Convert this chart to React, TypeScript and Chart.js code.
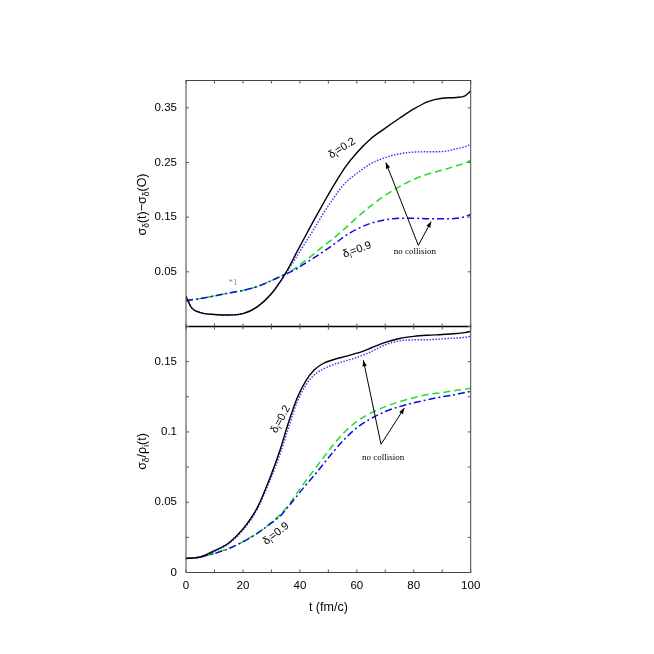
import { useEffect, useRef } from 'react';
import { Chart, registerables } from 'chart.js';

Chart.register(...registerables);

// time axis (fm/c)
const times = [0, 2, 5, 10, 15, 20, 25, 30, 33, 36, 39, 42, 45, 48, 52, 56, 60, 65, 70, 75, 80, 85, 90, 95, 98, 100];

// top panel: sigma_delta(t) - sigma_delta(0)
const topColl02 = [0.005, -0.016, -0.0245, -0.028, -0.029, -0.0265, -0.014, 0.010, 0.031, 0.057, 0.087, 0.116, 0.145, 0.173, 0.209, 0.242, 0.268, 0.294, 0.313, 0.331, 0.348, 0.3615, 0.3675, 0.369, 0.372, 0.381];
const topNoColl02 = [0.005, -0.016, -0.0245, -0.028, -0.029, -0.0265, -0.014, 0.010, 0.031, 0.054, 0.079, 0.104, 0.129, 0.155, 0.186, 0.213, 0.230, 0.248, 0.259, 0.266, 0.269, 0.2696, 0.270, 0.275, 0.279, 0.283];
const topColl09 = [-0.003, -0.001, 0.001, 0.006, 0.011, 0.016, 0.023, 0.034, 0.041, 0.049, 0.059, 0.071, 0.083, 0.096, 0.112, 0.130, 0.149, 0.171, 0.190, 0.206, 0.219, 0.229, 0.236, 0.244, 0.249, 0.254];
const topNoColl09 = [-0.003, -0.001, 0.001, 0.006, 0.011, 0.016, 0.023, 0.034, 0.041, 0.048, 0.056, 0.066, 0.076, 0.086, 0.1005, 0.116, 0.128, 0.139, 0.145, 0.148, 0.148, 0.147, 0.147, 0.148, 0.151, 0.155];

// bottom panel: sigma_delta / rho_i(t)
const botColl02 = [0.010, 0.0102, 0.011, 0.0155, 0.021, 0.031, 0.046, 0.070, 0.087, 0.1067, 0.124, 0.136, 0.144, 0.1485, 0.1515, 0.1537, 0.156, 0.1597, 0.1637, 0.1665, 0.168, 0.1688, 0.1693, 0.170, 0.1706, 0.1716];
const botNoColl02 = [0.010, 0.0102, 0.011, 0.015, 0.0205, 0.030, 0.045, 0.068, 0.084, 0.103, 0.121, 0.133, 0.1405, 0.1445, 0.148, 0.1505, 0.153, 0.157, 0.162, 0.1648, 0.1655, 0.1656, 0.1662, 0.1668, 0.1673, 0.168];
const botColl09 = [0.010, 0.0102, 0.011, 0.0137, 0.0172, 0.022, 0.028, 0.0357, 0.041, 0.048, 0.0565, 0.065, 0.073, 0.081, 0.0915, 0.1005, 0.1075, 0.1135, 0.118, 0.1215, 0.1243, 0.1266, 0.128, 0.1296, 0.1305, 0.1312];
const botNoColl09 = [0.010, 0.0102, 0.011, 0.0135, 0.017, 0.0218, 0.0278, 0.0352, 0.040, 0.047, 0.0545, 0.062, 0.069, 0.0765, 0.0865, 0.0955, 0.103, 0.1095, 0.1145, 0.118, 0.1207, 0.123, 0.125, 0.1267, 0.128, 0.1289];

// tick labels
const xTickLabels = [0, 20, 40, 60, 80, 100];
const xTickMarks = [0, 10, 20, 30, 40, 50, 60, 70, 80, 90, 100];
const topYTicks = [0.05, 0.15, 0.25, 0.35];
const botYTicks = [0, 0.05, 0.1, 0.15];
const botYTickMarks = [0, 0.025, 0.05, 0.075, 0.1, 0.125, 0.15, 0.175];

const SANS = "'Liberation Sans', Arial, sans-serif";
const SERIF = "'Liberation Serif', 'Times New Roman', serif";

type Part = { t: string; sub?: boolean };

const pts = (vals: number[]) => times.map((t, i) => ({ x: t, y: vals[i] }));

function drawParts(ctx: CanvasRenderingContext2D, parts: Part[], cx: number, cy: number, angleDeg: number, size: number, family: string, color: string) {
  ctx.save();
  ctx.translate(cx, cy);
  ctx.rotate((angleDeg * Math.PI) / 180);
  const subSize = size * 0.68;
  let total = 0;
  const widths = parts.map((p) => {
    ctx.font = `${p.sub ? subSize : size}px ${family}`;
    const w = ctx.measureText(p.t).width;
    total += w;
    return w;
  });
  let x = -total / 2;
  ctx.textBaseline = 'middle';
  ctx.textAlign = 'left';
  ctx.fillStyle = color;
  parts.forEach((p, i) => {
    ctx.font = `${p.sub ? subSize : size}px ${family}`;
    ctx.fillText(p.t, x, p.sub ? size * 0.32 : 0);
    x += widths[i];
  });
  ctx.restore();
}

function arrow(ctx: CanvasRenderingContext2D, x0: number, y0: number, x1: number, y1: number) {
  ctx.save();
  ctx.strokeStyle = '#000';
  ctx.fillStyle = '#000';
  ctx.lineWidth = 1;
  ctx.beginPath();
  ctx.moveTo(x0, y0);
  ctx.lineTo(x1, y1);
  ctx.stroke();
  const a = Math.atan2(y1 - y0, x1 - x0);
  const L = 6, W = 2.2;
  ctx.beginPath();
  ctx.moveTo(x1, y1);
  ctx.lineTo(x1 - L * Math.cos(a) + W * Math.sin(a), y1 - L * Math.sin(a) - W * Math.cos(a));
  ctx.lineTo(x1 - L * Math.cos(a) - W * Math.sin(a), y1 - L * Math.sin(a) + W * Math.cos(a));
  ctx.closePath();
  ctx.fill();
  ctx.restore();
}

const decorPlugin = {
  id: 'decor',
  afterDatasetsDraw(chart: any) {
    const ctx: CanvasRenderingContext2D = chart.ctx;
    const { left, right } = chart.chartArea;
    const x = chart.scales.x;
    const yt = chart.scales.yt;
    const yb = chart.scales.yb;
    ctx.save();
    // frames
    ctx.strokeStyle = '#444';
    ctx.lineWidth = 1;
    [yt, yb].forEach((s: any) => {
      ctx.strokeRect(left, s.top, right - left, s.bottom - s.top);
    });
    ctx.strokeStyle = '#000';
    ctx.lineWidth = 1.6;
    ctx.beginPath();
    ctx.moveTo(left, yb.top);
    ctx.lineTo(right, yb.top);
    ctx.stroke();
    // tick marks
    ctx.strokeStyle = '#555';
    ctx.lineWidth = 1;
    const TL = 3;
    ctx.beginPath();
    [yt, yb].forEach((s: any) => {
      xTickMarks.forEach((t) => {
        const px = x.getPixelForValue(t);
        ctx.moveTo(px, s.top);
        ctx.lineTo(px, s.top + TL);
        ctx.moveTo(px, s.bottom);
        ctx.lineTo(px, s.bottom - TL);
      });
    });
    topYTicks.forEach((v) => {
      const py = yt.getPixelForValue(v);
      ctx.moveTo(left, py);
      ctx.lineTo(left + TL, py);
      ctx.moveTo(right, py);
      ctx.lineTo(right - TL, py);
    });
    botYTickMarks.forEach((v) => {
      const py = yb.getPixelForValue(v);
      ctx.moveTo(left, py);
      ctx.lineTo(left + TL, py);
      ctx.moveTo(right, py);
      ctx.lineTo(right - TL, py);
    });
    ctx.stroke();
    ctx.restore();

    // y axis titles
    const tMid = (yt.top + yt.bottom) / 2;
    const bMid = (yb.top + yb.bottom) / 2;
    drawParts(ctx, [{ t: 'σ' }, { t: 'δ', sub: true }, { t: '(t)−σ' }, { t: 'δ', sub: true }, { t: '(O)' }], 143, tMid + 1, -90, 12.5, SANS, '#000');
    drawParts(ctx, [{ t: 'σ' }, { t: 'δ', sub: true }, { t: '/ρ' }, { t: 'i', sub: true }, { t: '(t)' }], 143, bMid + 2, -90, 12.5, SANS, '#000');

    // top panel annotations
    const P = (s: any, t: number, v: number) => [x.getPixelForValue(t), s.getPixelForValue(v)];
    let p = P(yt, 54.8, 0.276);
    drawParts(ctx, [{ t: 'δ' }, { t: 'i', sub: true }, { t: '=0.2' }], p[0], p[1], -33, 11, SANS, '#000');
    p = P(yt, 60.1, 0.09);
    drawParts(ctx, [{ t: 'δ' }, { t: 'i', sub: true }, { t: '=0.9' }], p[0], p[1], -20, 11, SANS, '#000');
    p = P(yt, 80.4, 0.087);
    drawParts(ctx, [{ t: 'no collision' }], p[0], p[1], 0, 9, SERIF, '#000');
    p = P(yt, 16.5, 0.031);
    drawParts(ctx, [{ t: '*1' }], p[0], p[1], 0, 9, SERIF, '#888');
    let a0 = P(yt, 81.6, 0.0984);
    let a1 = P(yt, 70.2, 0.25);
    arrow(ctx, a0[0], a0[1], a1[0], a1[1]);
    a1 = P(yt, 86.1, 0.142);
    arrow(ctx, a0[0], a0[1], a1[0], a1[1]);

    // bottom panel annotations
    p = P(yb, 33.3, 0.109);
    drawParts(ctx, [{ t: 'δ' }, { t: 'i', sub: true }, { t: '=0.2' }], p[0], p[1], -62, 11, SANS, '#000');
    p = P(yb, 31.6, 0.0276);
    drawParts(ctx, [{ t: 'δ' }, { t: 'i', sub: true }, { t: '=0.9' }], p[0], p[1], -38, 11, SANS, '#000');
    p = P(yb, 69.2, 0.082);
    drawParts(ctx, [{ t: 'no collision' }], p[0], p[1], 0, 9, SERIF, '#000');
    a0 = P(yb, 68.5, 0.0912);
    a1 = P(yb, 62.3, 0.151);
    arrow(ctx, a0[0], a0[1], a1[0], a1[1]);
    a1 = P(yb, 76.7, 0.117);
    arrow(ctx, a0[0], a0[1], a1[0], a1[1]);
  },
};

const fmt = (v: any) => String(Number(Number(v).toFixed(3)));

export default function App() {
  const ref = useRef<HTMLCanvasElement>(null);
  useEffect(() => {
    if (!ref.current) return;
    const solid = { borderColor: '#000000', borderWidth: 1.4 };
    const dotted = { borderColor: '#3030ff', borderWidth: 1.4, borderDash: [1.5, 1.5] };
    const dashed = { borderColor: '#22dd22', borderWidth: 1.5, borderDash: [7, 4] };
    const dashDot = { borderColor: '#0a0ae6', borderWidth: 1.5, borderDash: [7, 3, 2, 3] };
    const chart = new Chart(ref.current, {
      type: 'line',
      data: {
        datasets: [
          { label: 'top δ=0.2', data: pts(topColl02), yAxisID: 'yt', ...solid },
          { label: 'top δ=0.9 no coll', data: pts(topNoColl09), yAxisID: 'yt', ...dashDot },
          { label: 'top δ=0.2 no coll', data: pts(topNoColl02), yAxisID: 'yt', ...dotted },
          { label: 'top δ=0.9', data: pts(topColl09), yAxisID: 'yt', ...dashed },
          { label: 'bot δ=0.2', data: pts(botColl02), yAxisID: 'yb', ...solid },
          { label: 'bot δ=0.9 no coll', data: pts(botNoColl09), yAxisID: 'yb', ...dashDot },
          { label: 'bot δ=0.2 no coll', data: pts(botNoColl02), yAxisID: 'yb', ...dotted },
          { label: 'bot δ=0.9', data: pts(botColl09), yAxisID: 'yb', ...dashed },
        ] as any,
      },
      options: {
        animation: false,
        responsive: false,
        events: [],
        layout: { padding: { left: 0, right: 183.3, top: 80.5, bottom: 36.5 } },
        plugins: { legend: { display: false }, tooltip: { enabled: false } },
        elements: { point: { radius: 0 }, line: { cubicInterpolationMode: 'monotone', fill: false } },
        scales: {
          x: {
            type: 'linear',
            position: 'bottom',
            min: 0,
            max: 100,
            afterBuildTicks: (s: any) => { s.ticks = xTickLabels.map((v) => ({ value: v })); },
            afterFit: (s: any) => { s.height = 45; },
            grid: { display: false, drawTicks: false },
            border: { display: false },
            ticks: { color: '#000', padding: 6, maxRotation: 0, font: { family: SANS, size: 11.5 }, callback: (v: any) => String(v) },
            title: { display: true, text: 't (fm/c)', color: '#000', font: { family: SANS, size: 12.5 }, padding: { top: 0, bottom: 2.5 } },
          },
          yb: {
            type: 'linear',
            position: 'left',
            stack: 'panels',
            stackWeight: 1,
            min: 0,
            max: 0.175,
            afterBuildTicks: (s: any) => { s.ticks = botYTicks.map((v) => ({ value: v })); },
            afterFit: (s: any) => { s.width = 186; },
            grid: { display: false, drawTicks: false },
            border: { display: false },
            ticks: { color: '#000', padding: 9, font: { family: SANS, size: 11.5 }, callback: fmt },
          },
          yt: {
            type: 'linear',
            position: 'left',
            stack: 'panels',
            stackWeight: 1,
            min: -0.05,
            max: 0.4,
            afterBuildTicks: (s: any) => { s.ticks = topYTicks.map((v) => ({ value: v })); },
            afterFit: (s: any) => { s.width = 186; },
            grid: { display: false, drawTicks: false },
            border: { display: false },
            ticks: { color: '#000', padding: 9, font: { family: SANS, size: 11.5 }, callback: fmt },
          },
        } as any,
      },
      plugins: [decorPlugin],
    });
    return () => chart.destroy();
  }, []);
  return (
    <div style={{ position: 'fixed', left: 0, top: 0, width: 654, height: 654, background: '#fff' }}>
      <canvas ref={ref} width={654} height={654} style={{ width: 654, height: 654, display: 'block' }} />
    </div>
  );
}
